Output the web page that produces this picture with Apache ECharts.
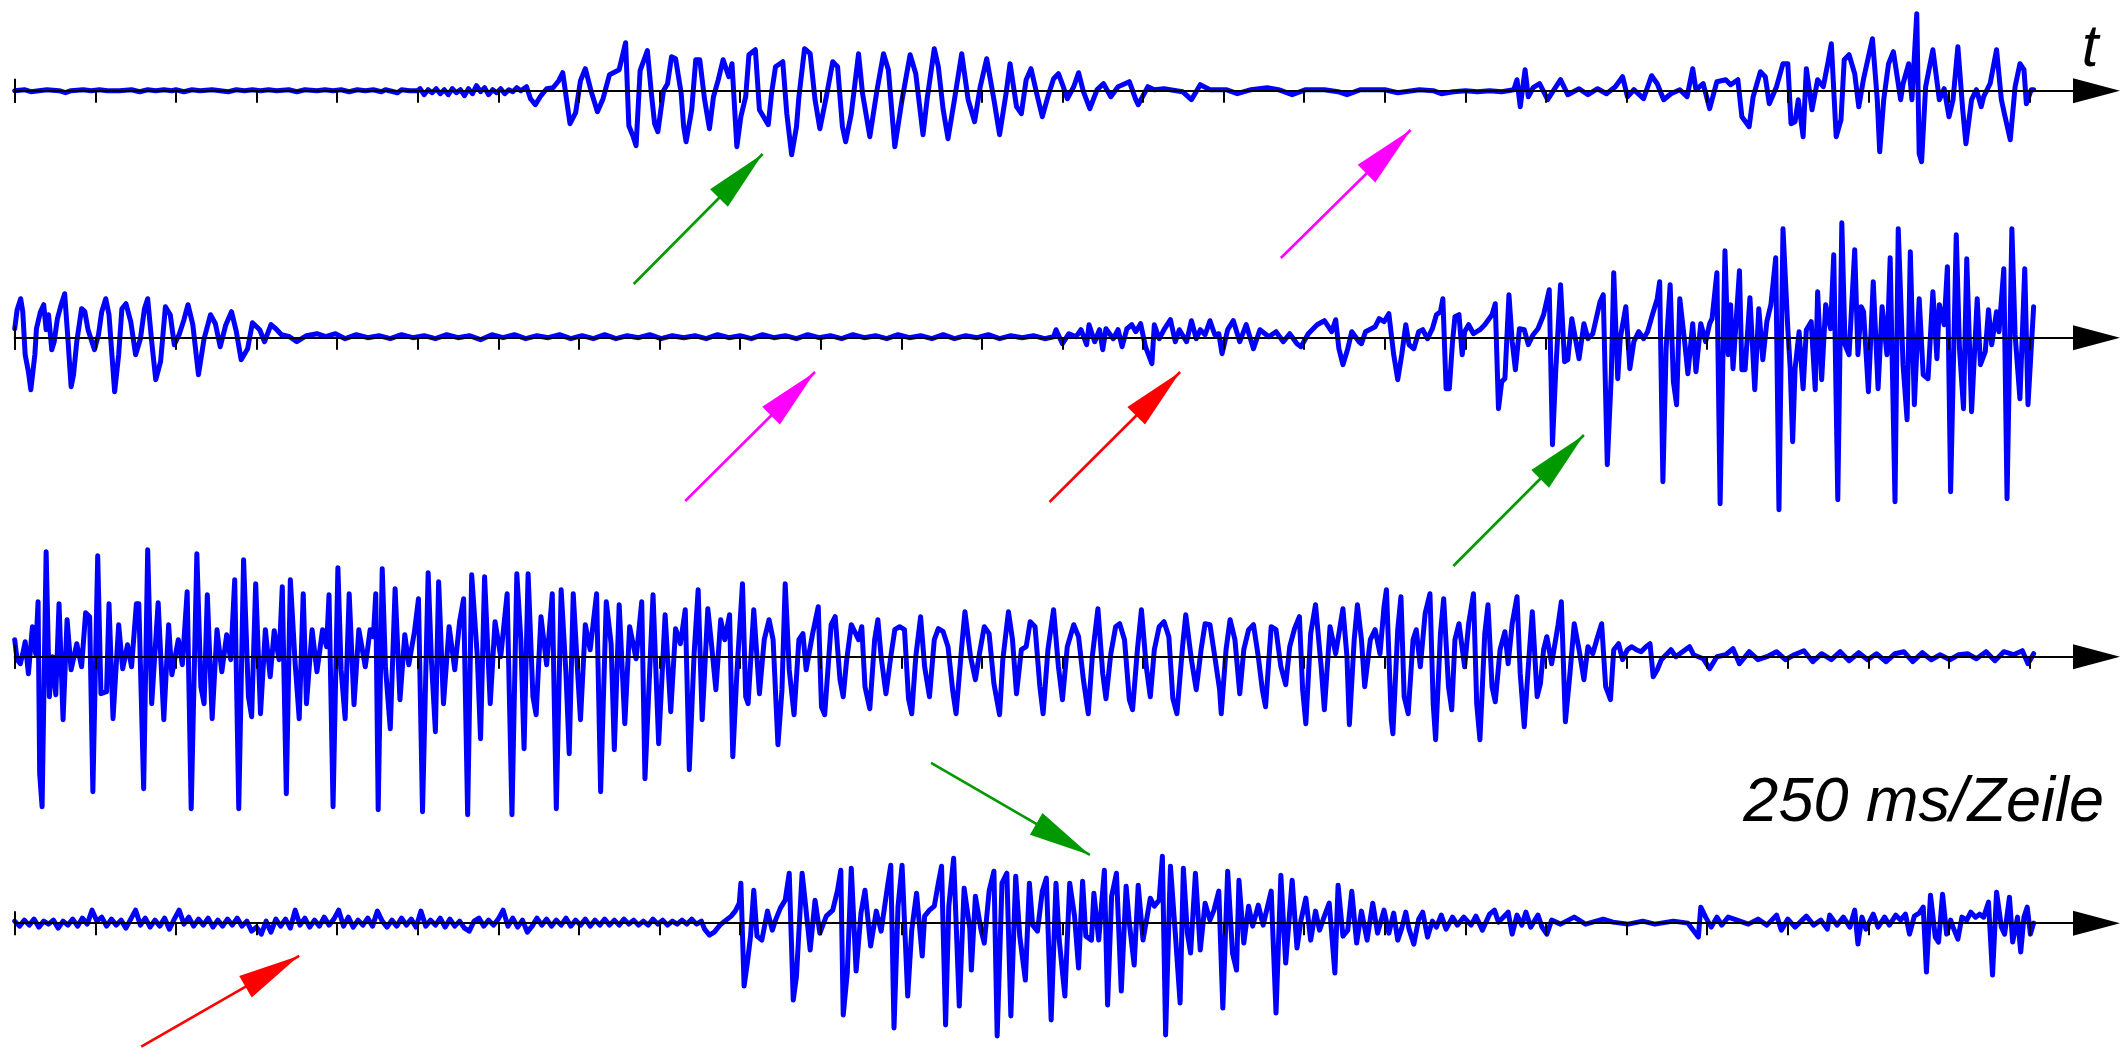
<!DOCTYPE html>
<html>
<head>
<meta charset="utf-8">
<script src="https://cdn.jsdelivr.net/npm/echarts@6/dist/echarts.min.js"></script>
<style>
html,body{margin:0;padding:0;background:#ffffff;}
#chart{width:2120px;height:1049px;}
</style>
</head>
<body>
<div id="chart"></div>
<script>
// ---------- DATA (time in ms, amplitude in arbitrary units) ----------
const tickValues = [0,10,20,30,40,50,60,70,80,90,100,110,120,130,140,150,160,170,180,190,200,210,220,230,240,250];

const row1 = [[0,0],[1.2,1],[2,-1],[3,0],[4,1],[5.5,0],[6.3,-2],[7,0],[8.5,1],[9.5,0],[10.5,1],[11.5,0],[13,0],[14.5,1],[15.5,-1],[16.5,1],[17.5,0],[18.5,1],[19.5,0],[20,1],[21,-1],[22,1],[23,0],[24.5,1],[25.5,0],[26.5,-1],[27.5,1],[28.5,0],[29.5,1],[30.5,0],[31.5,1],[32.5,0],[34,1],[35,-1],[36,1],[37.5,0],[38.5,1],[39.5,0],[40.5,1],[41.5,-1],[42.5,1],[43.5,0],[44.5,1],[45.5,-1],[46,1],[46.5,0],[47.5,-2],[48,1],[49,0],[50,0],
[50.3,2],[50.8,-4],[51.3,1],[51.8,-2],[52.3,2],[52.8,-3],[53.3,1],[53.8,-4],[54.3,2],[54.8,-2],[55.3,1],[55.8,-5],[56.3,2],[56.8,-3],[57.3,5],[57.8,-1],[58.3,3],[58.8,-4],[59.3,1],[59.8,-2],[60.3,2],[60.8,-3],[61.3,1],[61.8,-1],[62.3,3],[62.8,0],[63.5,4],[64,-8],[64.6,-14],[65.2,-6],[66,2],[66.8,3],[67.5,10],[68,18],[68.4,-5],[68.9,-33],[69.6,-22],[70.2,10],[70.8,22],[71.5,0],[72.3,-21],[73,-8],[73.8,16],[75,21],[75.8,48],[76.2,-35],[76.7,-45],[77.1,-55],[77.6,20],[78.5,40],[79,-3],[79.4,-33],[79.8,-41],[80.5,0],[81,7],[81.5,34],[82,32],[82.7,-3],[83,-36],[83.3,-51],[84,-19],[84.5,31],[85.0,31],
[85.6,-9],[86.2,-38],[86.7,-6],[87.3,11],[87.9,31],[88.6,14],[89,27],[89.6,-56],[90.1,-26],[90.7,-6],[91.1,36],[91.9,41],[92.4,-19],[93.5,-34],[93.9,-3],[94.4,24],[95.3,29],[95.8,-23],[96.4,-64],[97,-36],[97.3,-6],[98.0,42],[98.7,37],[99.3,-9],[99.9,-38],[100.7,-6],[101.5,29],[102.1,24],[102.7,-36],[103.1,-51],[103.8,-23],[104.7,37],[105.2,-3],[106.1,-46],[107,1],[107.8,37],[108.4,21],[109.2,-56],[110.1,-9],[111.1,36],[111.8,17],[112.7,-44],[113.2,-9],[114.1,42],[114.6,24],[115.2,-19],[115.8,-48],[116.6,-9],[117.5,37],[118.3,-9],[119.1,-31],[119.8,4],[120.6,32],[121.5,-9],[122.2,-44],[123,-3],[123.5,27],[124.3,-16],[124.9,-23],[125.5,11],[126.1,22],[126.9,-6],[127.5,-26],[128.3,-3],[128.9,12],[129.5,17],[130.1,4],[130.6,-8],[131.4,4],[132.0,18],[132.6,-1],[133.4,-18],[134.3,1],[135.1,7],[136,-6],[136.9,4],[138.3,9],[139.1,-9],[139.4,-14],[140.6,4],[141.4,1],[142.6,2],[144.9,-1],[146.0,-9],[147.1,6],[148.3,1],[150.3,1],[151.7,-3],[153.4,1],[155.4,3],[156.8,1],[158.5,-4],[160.2,1],[162.5,1],[164.2,-1],[165.3,-4],[167,1],[170,1],[171.6,-2],[174.3,1],
[176,0],[177,-3],[178.5,-1],[180,0],[181.5,-1],[183,0],[184.5,-1],[186,1],[186.4,11],[186.8,-16],[187.4,21],[187.8,-6],[188.4,3],[189.2,7],[190.2,-9],[191,1],[191.8,11],[192.7,-4],[194.1,2],[195.2,-4],[196.4,2],[197.5,-3],[198.6,4],[199.5,14],[200.1,-6],[200.9,1],[202.1,-8],[203.1,15],[203.8,7],[204.6,-9],[205.5,-3],[206.6,1],[207.5,-6],[208.2,22],[208.6,1],[209.5,7],[210.3,-18],[211.2,9],[212.3,11],[212.9,6],[213.8,11],[214.3,-26],[215.2,-36],[215.7,-6],[216.6,19],[217.2,14],[217.7,-13],[218.6,4],[219.4,27],[220,27],[220.4,-33],[220.9,-31],[221.3,-9],[221.9,-46],[222.3,22],[223,-19],[223.7,11],[224.4,4],[225.0,29],[225.4,47],[226.0,-46],[226.6,-29],[227,31],[227.6,36],[228.3,17],[228.8,-16],[229.4,12],[230.5,52],[231.1,-9],[231.4,-61],[231.9,-9],[232.5,27],[233.1,39],[234,-9],[234.3,7],[235.0,27],[235.4,-9],[236.0,77],[236.3,-63],[236.6,-71],[237.1,4],[238.0,41],[238.8,-9],[239.4,2],[240,-26],[240.5,-9],[241.1,44],[241.7,-19],[242.1,-53],[242.8,-9],[243.4,1],[244,-16],[244.3,-6],[245.1,7],[245.9,41],[246.5,-9],[246.9,-24],[247.6,-49],[248.2,4],[248.8,27],[249.3,21],[249.6,-13],[250.2,1],[250.5,1]];

const row2 = [[0,9],[0.3,28],[0.74,39],[1,26],[1.3,-17],[1.7,-34],[2.0,-52],[2.5,-17],[2.7,9],[3.2,26],[3.6,33],[3.9,8],[4.2,23],[4.6,-12],[4.9,-4],[5.3,19],[5.8,34],[6.2,44],[6.6,-1],[7.0,-49],[7.3,-37],[7.7,-4],[8.3,29],[8.7,26],[9.1,8],[9.9,-12],[10.4,3],[10.8,26],[11.3,39],[11.7,23],[12.1,-21],[12.4,-54],[12.9,-17],[13.3,29],[13.8,34],[14.4,16],[15.0,-17],[15.6,-1],[16.1,29],[16.5,39],[17.0,-4],[17.5,-42],[18.1,-24],[18.7,31],[19.3,23],[19.8,-7],[20.4,3],[21,18],[21.5,33],[22.1,13],[22.8,-37],[23.5,-1],[24.3,23],[24.9,14],[25.5,-9],[26.2,13],[26.9,26],[27.5,6],[28.1,-22],[28.9,-11],[29.5,15],[30.4,8],[31,-4],[31.8,13],[32.4,9],[33.1,3],[34.1,1],[35,-4],[36.2,2],[37.5,4],[38.6,1],[39.8,4],
[41,-1],[42.4,3],[43.8,0],[45.2,2],[46.6,-1],[48,3],[49.4,0],[50.8,2],[52.2,-1],[53.6,3],[55,0],[56.4,2],[57.8,-2],[59.2,3],[60.6,0],[62,3],[63.4,-1],[64.8,2],[66.2,0],[67.6,3],[69,-1],[70.4,2],[71.8,-1],[73.2,3],[74.6,-1],[76,2],[77.4,0],[78.8,3],[80.2,-1],[81.6,2],[83,0],[84.4,2],[85.8,-1],[87.2,3],[88.6,0],[90,2],[91.4,-1],[92.8,3],[94.2,0],[95.6,2],[97,-1],[98.4,3],[99.8,0],[101.2,2],[102.6,-1],[104,3],[105.4,0],[106.8,2],[108.2,-1],[109.6,3],[111,0],[112.4,2],[113.8,-1],[115.2,3],[116.6,-1],[118,2],[119.4,0],[120.8,3],[122.2,-1],[123.6,2],[125,0],[126.4,2],[127.8,-1],[128.9,1],
[129.2,8],[130,-6],[130.8,4],[131.7,1],[132.3,8],[133,-7],[133.3,13],[134,-4],[134.6,8],[135.0,-12],[135.4,9],[136.3,-1],[136.9,8],[137.4,-9],[138,9],[138.6,13],[139.1,6],[139.7,14],[140.3,-9],[141.1,-26],[141.4,13],[142,-1],[142.6,8],[143.4,18],[144,-4],[144.5,8],[145.4,-4],[146.0,17],[146.6,-1],[147.1,8],[147.7,3],[148.3,17],[148.9,3],[149.4,4],[149.8,-16],[150.5,8],[151.2,17],[152,-4],[152.8,13],[153.7,-11],[154.5,8],[155.6,1],[156.5,6],[157.4,-4],[158.2,4],[159.1,-6],[159.6,-9],[160.5,4],[161.6,13],[162.5,17],[163.4,6],[163.9,18],[164.3,-11],[164.8,-27],[165.4,-11],[165.9,6],[166.8,-4],[167.1,-6],[167.6,6],[168.8,11],[169.3,19],[169.9,16],[170.5,24],[171.1,-17],[171.6,-42],[172.1,-17],[172.6,13],[173,-7],[173.6,-11],[174.2,6],[174.7,8],[175.3,-1],[175.9,9],[176.4,23],[176.9,26],[177.2,39],[177.6,-51],[178.0,-51],[178.4,-4],[178.7,21],[179.2,23],[179.6,-17],[179.9,6],[180.4,13],[181,4],[181.8,8],[182.4,13],[183.3,23],[183.7,34],[184.1,-71],[184.5,-44],[184.9,-41],[185.4,43],[185.8,-4],[186.2,-32],[186.7,9],[187.3,8],[187.8,-7],[188.4,3],[189,9],[189.7,23],[190.4,48],[190.8,-107],[191.2,-34],[191.8,53],[192.3,-24],[192.7,-22],[193.2,19],[194.1,-21],[194.7,14],[195.2,-1],[195.8,4],[196.7,36],[197.1,43],[197.6,-127],[198.1,-37],[198.4,65],[198.9,-41],[199.2,-1],[199.9,31],[200.4,-31],[200.9,-4],[201.5,6],[202.1,-1],[202.6,6],[203.2,23],[203.8,39],[204.1,56],[204.5,-144],[204.9,-11],[205.4,53],[205.8,-44],[206.2,-67],[206.6,39],[207.2,-4],[207.6,-36],[208.2,14],[208.6,-34],[209.2,14],[209.8,-4],[210.3,14],[210.6,19],[211.2,65],[211.6,-166],[212.2,87],[212.6,-17],[212.9,33],[213.2,-31],[214.0,67],[214.3,-32],[214.7,-32],[215.3,40],[215.9,-52],[216.4,29],[216.9,-22],[217.4,16],[217.9,33],[218.5,80],[218.9,-172],[219.4,109],[220,9],[220.3,-31],[220.6,-104],[220.9,-31],[221.4,6],[221.9,-51],[222.3,8],[222.9,16],[223.4,-52],[223.7,46],[224.2,-42],[224.7,33],[225.3,9],[225.7,83],[226.2,-162],[226.7,115],[227.1,-7],[227.6,-17],[228.3,88],[228.7,-17],[229.1,31],[229.4,26],[230,-54],[230.6,56],[231.2,-51],[231.7,31],[232.3,-17],[232.7,80],[233.3,-164],[233.7,109],[234.3,-27],[234.8,-82],[235.2,86],[235.7,-67],[236.3,39],[236.8,-37],[237.4,-41],[238.0,46],[238.5,-21],[238.8,33],[239.4,13],[239.8,71],[240.2,-154],[240.9,103],[241.3,-11],[241.8,-71],[242.2,79],[242.8,-74],[243.5,39],[243.9,-27],[244.5,-14],[244.9,28],[245.3,-7],[245.9,26],[246.2,6],[246.8,69],[247.2,-161],[247.8,109],[248.2,3],[248.8,-61],[249.4,69],[249.8,-67],[250.5,31]];

const row3 = [[0,17],[0.3,-3],[0.7,-7],[1,3],[1.3,15],[1.7,-17],[2.2,30],[2.6,3],[2.9,55],[3.1,-117],[3.4,-150],[3.9,105],[4.3,-40],[4.7,0],[5.1,-38],[5.5,53],[6.0,-63],[6.5,37],[7.0,-13],[7.7,13],[8.3,-10],[8.8,44],[9.3,40],[9.7,-135],[10.3,101],[10.7,-37],[11.4,-35],[11.7,53],[12.2,-62],[12.9,32],[13.4,-12],[14.0,12],[14.5,-10],[15.1,53],[15.4,53],[16.0,-132],[16.5,107],[17.0,-47],[17.8,54],[18.5,-63],[19.1,32],[19.5,-18],[20.3,17],[20.8,-8],[21.4,65],[21.9,-152],[22.6,103],[23.1,-30],[23.5,-47],[23.9,62],[24.5,-62],[25.1,27],[25.7,-15],[26.3,22],[26.8,-3],[27.3,77],[27.8,-152],[28.4,97],[29,-40],[29.4,-60],[29.9,73],[30.5,-57],[31.1,27],[31.7,-20],[32.2,26],[32.8,-3],[33.2,70],[33.7,-137],[34.2,77],[34.8,-7],[35.3,-62],[35.8,63],[36.2,-47],[36.9,27],[37.5,-15],[38.2,27],[38.7,10],[39.0,62],[39.5,-150],[40.1,89],[40.5,-13],[41.0,-62],[41.5,63],[42.1,-48],[42.7,27],[43.5,-10],[44.1,27],[44.5,20],[44.8,63],[45.1,-153],[45.6,88],[46.0,-10],[46.6,-72],[47.2,68],[47.8,-43],[48.4,22],[48.9,-8],[49.6,25],[50.1,58],[50.6,-155],[51.3,84],[51.7,-3],[52.2,-75],[52.6,75],[53.2,-47],[53.9,30],[54.6,-13],[55.2,35],[55.7,58],[56.2,-158],[56.7,82],[57.4,0],[57.8,-82],[58.3,80],[59.0,-47],[59.6,35],[60.3,0],[61.1,63],[61.7,-158],[62.3,83],[62.8,17],[63.2,-92],[63.7,83],[64.3,-40],[64.7,-58],[65.3,40],[66,-8],[66.7,63],[67.2,-152],[67.8,67],[68.4,-17],[68.8,-97],[69.3,63],[69.9,-23],[70.2,-63],[70.8,32],[71.4,7],[72.2,63],[72.7,-135],[73.4,55],[74,13],[74.4,-93],[75.0,52],[75.7,-67],[76.3,30],[77.1,-2],[77.8,55],[78.2,-122],[79.2,62],[79.9,-87],[80.7,42],[81.4,-55],[82.0,28],[82.6,13],[83.2,47],[83.7,-113],[84.3,3],[84.8,67],
[85.3,-63],[86.0,48],[86.4,17],[87.0,-33],[87.6,37],[88.1,17],[88.7,42],[89.1,-100],[89.6,-17],[90.3,73],[90.7,-40],[91.0,-47],[91.7,47],[92.4,-37],[93,17],[93.6,37],[94.1,17],[94.7,-88],[95.2,-33],[95.6,73],[96.1,-13],[96.7,-58],[97.3,17],[97.8,23],[98.2,-13],[99,23],[99.7,50],[100.1,-50],[100.5,-58],[101.3,32],[101.8,40],[102.4,-23],[102.8,-40],[103.2,-5],[103.8,32],[104.7,17],[105.1,30],[105.5,-30],[106.1,-52],[106.7,17],[107.1,37],[107.5,0],[108.1,-37],[108.7,0],[109.2,27],[109.8,30],[110.4,27],[110.9,-42],[111.3,-57],[111.8,0],[112.4,40],[112.9,-10],[113.5,-40],[114.1,17],[114.6,28],[115.2,25],[115.8,10],[116.4,-35],[116.8,-57],[117.5,10],[117.9,45],[118.6,0],[119.2,-23],[119.7,3],[120.3,30],[120.9,23],[121.5,-27],[122.2,-58],[122.6,-3],[123.3,45],[123.8,17],[124.3,-37],[124.9,7],[125.5,10],[126.0,35],[126.6,30],[127.2,-30],[127.6,-57],[128.2,7],[128.9,47],[129.5,-10],[130.0,-43],[130.6,10],[131.4,32],[132.0,20],[132.6,-23],[133.2,-57],[133.7,0],[134.4,48],[135.0,-17],[135.4,-42],[136,3],[136.6,30],[137.1,33],[137.7,17],[138.3,-43],[138.7,-53],[139.3,7],[139.8,47],[140.4,-10],[140.9,-40],[141.4,7],[142.0,30],[142.6,35],[143.2,20],[143.7,-42],[144.2,-57],[144.9,10],[145.3,42],[146.0,-3],[146.6,-33],[147.2,7],[147.7,33],[148.3,32],[148.9,0],[149.5,-33],[149.7,-57],[150.3,7],[150.8,37],[151.4,17],[152.0,-37],[152.5,7],[153.1,27],[153.7,32],[154.3,0],[154.8,-33],[155.2,-50],[155.9,30],[156.5,27],[157.1,-10],[157.7,-28],[158.2,10],[158.8,28],[159.4,40],[159.8,-33],[160.2,-67],[160.8,23],[161.4,52],[162.1,-10],[162.5,-53],[163.2,30],[163.9,3],[164.8,48],[165.3,0],[165.6,-68],[166.2,17],[166.6,52],[167.1,17],[167.5,-30],[168.2,17],[168.8,27],[169.4,3],[169.9,50],[170.2,67],[170.8,-63],[171.0,-77],[171.6,27],
[172.0,60],[172.4,-40],[172.9,-57],[173.5,17],[173.9,27],[174.4,-10],[175.0,43],[175.6,63],[176.0,-47],[176.3,-83],[176.9,23],[177.3,58],[177.9,-30],[178.3,-53],[178.7,17],[179.2,33],[179.9,-10],[180.4,33],[181.0,63],[181.4,-47],[181.8,-83],[182.4,23],[182.8,52],[183.3,-30],[183.7,-45],[184.3,7],[184.9,25],[185.3,-7],[185.8,33],[186.4,60],[186.8,-17],[187.3,-70],[187.8,-10],[188.3,45],[188.9,-40],[189.3,-27],[189.7,7],[190.1,20],[190.7,-7],[191.5,32],[191.9,55],[192.4,-65],[192.9,-23],[193.5,33],[194.1,7],[194.7,-23],[195.2,10],[195.8,3],[196.4,20],[196.9,33],[197.4,-30],[198.0,-43],[198.4,7],[199.0,13],[199.5,-3],[200.1,7],[200.6,10],[201.2,7],[201.8,5],[202.4,10],[202.9,13],[203.3,-20],[203.8,-13],[204.3,-3],[204.9,2],[205.5,7],[206.1,0],[206.6,3],[207.8,10],[208.3,2],[209.5,-2],[210.3,-12],[211.2,0],[212.3,2],[213.2,8],[214,-7],[215.2,5],[216.3,-3],[217.4,0],[218.6,5],[219.7,-3],[220.8,2],[222,6],[223.1,-5],[224.2,3],[225.4,-3],[226.5,5],[227.6,-4],[228.8,4],[229.9,-3],[231,3],[232.2,-5],[233.3,3],[234.4,5],[235.5,-5],[236.7,4],[237.8,-3],[238.9,2],[240.1,-3],[241.2,2],[242.3,3],[243.4,-2],[244.6,5],[245.7,-4],[246.8,5],[248,2],[249.1,6],[249.8,-7],[250.5,3]];

const row4 = [[0,2],[0.6,-3],[1.2,3],[1.8,-2],[2.4,4],[3,-4],[3.6,2],[4.2,-1],[4.8,3],[5.4,-5],[6,2],[6.6,-2],[7.2,4],[7.8,-3],[8.4,5],[9,-1],[9.6,13],[10.2,2],[10.8,6],[11.4,-3],[12,4],[12.6,-2],[13.2,3],[13.8,-5],[14.4,4],[15,13],[15.6,-2],[16.2,5],[16.8,-4],[17.4,3],[18,-3],[18.6,5],[19.2,-6],[19.8,4],[20.4,13],[21,-1],[21.6,6],[22.2,-3],[22.8,4],[23.4,-2],[24,5],[24.6,-4],[25.2,3],[25.8,-3],[26.4,4],[27,-2],[27.6,5],[28.2,-3],[28.8,2],[29.4,-8],[30,-4],[30.6,-11],[31.2,2],[31.8,-9],[32.4,4],[33,-3],[33.6,4],[34.2,-5],[34.8,13],[35.4,-2],[36,5],[36.6,-4],[37.2,3],[37.8,-3],[38.4,6],[39,-2],[39.6,4],[40.2,13],[40.8,-3],[41.4,6],[42,-4],[42.6,3],[43.2,-2],[43.8,5],[44.4,-3],[45,12],[45.6,2],[46.2,-4],[46.8,3],[47.4,-3],[48,5],[48.6,-2],[49.2,4],[49.8,-4],[50.4,12],[51,-3],[51.6,3],[52.2,-2],[52.8,5],[53.4,-4],[54,4],[54.6,-3],[55.2,2],[55.8,-5],[56.4,-8],[57,2],[57.6,5],[58.2,-3],[58.8,3],[59.4,-2],[60,4],[60.6,13],[61.2,-3],[61.8,5],[62.4,-4],[63,3],[63.6,-9],[64.2,-3],[64.8,5],[65.4,-2],[66,4],[66.6,-3],[67.2,3],[67.8,-2],[68.4,5],[69,-3],[69.6,3],[70.2,-2],[70.8,4],[71.4,-3],[72,3],[72.6,-2],[73.2,4],[73.8,-2],[74.4,3],[75,-2],[75.6,4],[76.2,-1],[76.8,3],[77.4,-2],[78,2],[78.6,-2],[79.2,4],[79.8,-1],[80.4,3],[81,-2],[81.6,2],[82.2,-1],[82.8,3],[83.4,-1],[84,4],[84.6,-1],[85.2,2],[85.6,-6],[86.2,-12],[86.8,-9],[87.5,-2],
[88.1,2],[88.9,7],[89.4,12],[89.9,20],[90.1,40],[90.5,-63],[90.9,-40],[91.3,-13],[91.7,33],[92.1,-13],[92.7,-17],[93.4,12],[94,-7],[94.4,3],[95,15],[95.6,23],[96.1,50],[96.6,-77],[97,-53],[97.7,50],[98.1,20],[98.7,-27],[99.3,23],[99.9,-10],[100.7,7],[101.5,13],[102.1,33],[102.5,53],[102.8,-92],[103.3,-50],[103.8,55],[104.4,-48],[105,10],[105.5,33],[106.2,-23],[106.9,12],[107.5,-8],[108.3,37],[108.7,58],[109.1,-105],[109.6,17],[110.1,58],[110.8,-73],[111.3,-7],[111.9,30],[112.6,-33],[112.9,7],[113.5,13],[114.1,17],[114.6,40],[115,57],[115.5,-102],[115.9,17],[116.5,65],[117.2,-83],[117.8,35],[118.5,-5],[118.7,-47],[119.2,27],[119.9,-7],[120.3,-20],[120.9,32],[121.5,52],[121.9,-113],[122.5,40],[123.1,50],[123.6,-93],[124.2,47],[124.7,-13],[125.4,-57],[125.9,40],[126.3,-2],[126.9,-8],[127.5,32],[128,45],[128.6,-97],[129.2,40],[129.6,-17],[130.3,-73],[130.9,40],[131.5,7],[132,-45],[132.5,42],[132.9,-13],[133.6,-17],[133.9,30],[134.5,-17],[135.2,53],[135.6,-82],[136.1,27],[136.7,50],[137.3,-68],[137.9,37],[138.3,0],[138.9,-42],[139.4,38],[140,-17],[140.9,25],[141.4,17],[142,23],[142.4,67],[142.8,-112],[143.4,57],[144,-10],[144.6,-80],[145,55],[145.5,-10],[145.9,-30],[146.5,50],[147.1,-27],[147.7,20],[148.3,3],[148.8,13],[149.4,32],[149.9,-85],[150.5,52],[151.1,-30],[151.6,-47],[151.9,43],[152.5,-20],[153.1,17],[153.6,-3],[154.3,18],[154.9,-2],[155.9,32],[156.5,-90],[157.1,48],[157.7,-40],[158.5,43],[159.1,-25],[159.6,3],[160.2,25],[160.8,-17],[161.4,12],[161.9,-7],[162.5,7],[163.1,20],[163.8,-50],[164.2,38],[164.8,-13],[165.4,-7],[165.9,32],[166.5,-20],[167.1,12],[167.8,-17],[168.5,20],[169.1,-10],[169.9,13],[170.5,-10],[171.1,10],[171.6,-17],
[172.1,-5],[172.6,11],[173.0,-6],[173.6,-21],[174.2,4],[174.7,11],[175.3,-14],[175.9,2],[176.4,-4],[177,8],[177.6,-6],[178.4,6],[179,-2],[179.8,6],[180.7,-2],[181.3,7],[182.1,-7],[183,9],[183.6,13],[184.1,1],[184.7,6],[185.3,11],[185.8,-11],[186.4,8],[187,-2],[187.5,11],[188.1,-4],[189,8],[189.5,-4],[190.1,-11],[190.7,3],[191.8,-1],[193.5,6],[194.9,-1],[197.1,4],[198.3,1],[200.2,-1],[202,2],[203.5,-1],[205.8,2],[207.6,0],[208.9,-14],[209.2,16],[209.8,6],[210.5,-4],[211.2,6],[211.8,-2],[212.6,6],[213.7,3],[215.1,-1],[216.3,4],[217.4,-2],[218.6,8],[219.2,-7],[220,4],[220.9,-4],[222.3,7],[223.2,-2],[224.1,3],[224.9,-6],[225.2,8],[226.1,-2],[226.9,6],[227.7,-4],[228.3,13],[228.7,-21],[229.2,6],[229.7,-6],[230.6,9],[231.2,-4],[232,6],[232.6,-2],[233.4,8],[234,3],[234.6,9],[235.1,-11],[235.7,7],[236.3,10],[236.8,16],[237.2,-49],[237.7,28],[238.3,-14],[238.7,-19],[239.2,29],[239.7,-11],[240.2,3],[240.5,-4],[241.1,-16],[241.6,6],[242.2,3],[242.7,11],[243.3,6],[243.8,9],[244.3,6],[244.9,21],[245.4,-52],[245.9,31],[246.5,-4],[246.9,-11],[247.5,26],[247.9,-19],[248.5,6],[248.9,-29],[249.3,6],[249.7,16],[250.1,-11],[250.5,0]];

// annotation arrows: row index, tail (t, amp), head (t, amp), kind
const arrowRows  = [0, 0, 1, 1, 1, 3, 3];
const arrowTails = [[76.8,-193.3],[157.1,-167.3],[83.2,-163.3],[128.4,-164.3],[178.5,-228.3],[113.7,160.3],[15.7,-123.7]];
const arrowHeads = [[92.8,-63.3],[173.2,-39.3],[99.3,-34.3],[144.6,-34.3],[194.7,-97.3],[133.4,68.3],[35.3,-32.7]];
const arrowKinds = ['green','magenta','magenta','red','green','green','red'];

const rows = [row1, row2, row3, row4];

// ---------- LAYOUT / STYLE ----------
const kindColor = {green:'#009900', magenta:'#ff00ff', red:'#ff0000'};
const axisYpx = [90.7, 337.7, 656.7, 923.3];
const yRange = [[-200, 90], [-235, 180], [-165, 115], [-126, 165]];
const leftPx = 14.7, rightPx = 23.5, xMax = 258.3;

const grids = [], xAxes = [], yAxes = [], series = [];
rows.forEach(function (data, i) {
  const lo = yRange[i][0], hi = yRange[i][1];
  grids.push({left: leftPx, right: rightPx, top: axisYpx[i] - hi, height: hi - lo, containLabel: false});
  xAxes.push({
    gridIndex: i, type: 'value', min: 0, max: xMax, interval: 10, z: 5,
    axisLine: {show: true, onZero: true, symbol: ['none', 'triangle'], symbolSize: [25, 47],
      lineStyle: {color: '#000000', width: 2}},
    axisTick: {show: true, customValues: tickValues, length: 12, lineStyle: {color: '#000000', width: 2}},
    axisLabel: {show: false}, splitLine: {show: false}
  });
  yAxes.push({gridIndex: i, type: 'value', min: lo, max: hi, show: false});

  const ml = [[{coord: [0, 12], symbol: 'none', lineStyle: {color: '#000000', width: 2, type: 'solid'}},
               {coord: [0, -12], symbol: 'none'}]];
  arrowRows.forEach(function (r, k) {
    if (r !== i) return;
    ml.push([
      {coord: arrowTails[k], symbol: 'none', lineStyle: {color: kindColor[arrowKinds[k]], width: 2.6, type: 'solid'}},
      {coord: arrowHeads[k], symbol: 'triangle', symbolSize: [25, 62], symbolOffset: [0, 31]}
    ]);
  });

  series.push({
    type: 'line', xAxisIndex: i, yAxisIndex: i, data: data,
    showSymbol: false, symbol: 'none', animation: false, z: 2,
    lineStyle: {color: '#0000ff', width: 5, join: 'round', cap: 'round'},
    markLine: {
      silent: true, animation: false, symbol: ['none', 'none'],
      label: {show: false}, emphasis: {disabled: true},
      lineStyle: {type: 'solid'},
      data: ml
    }
  });
});

const chart = echarts.init(document.getElementById('chart'), null, {renderer: 'canvas', width: 2120, height: 1049});
chart.setOption({
  backgroundColor: '#ffffff',
  animation: false,
  grid: grids, xAxis: xAxes, yAxis: yAxes, series: series,
  graphic: [
    {type: 'text', z: 10, style: {text: 't', x: 2090, y: 49, align: 'center', verticalAlign: 'middle',
      fontSize: 60, fontStyle: 'italic', fontFamily: 'Liberation Sans, Arial, sans-serif', fill: '#000000'}},
    {type: 'text', z: 10, style: {text: '250 ms/Zeile', x: 2104, y: 803, align: 'right', verticalAlign: 'middle',
      fontSize: 63, fontStyle: 'italic', fontFamily: 'Liberation Sans, Arial, sans-serif', fill: '#000000'}}
  ]
});
</script>
</body>
</html>
